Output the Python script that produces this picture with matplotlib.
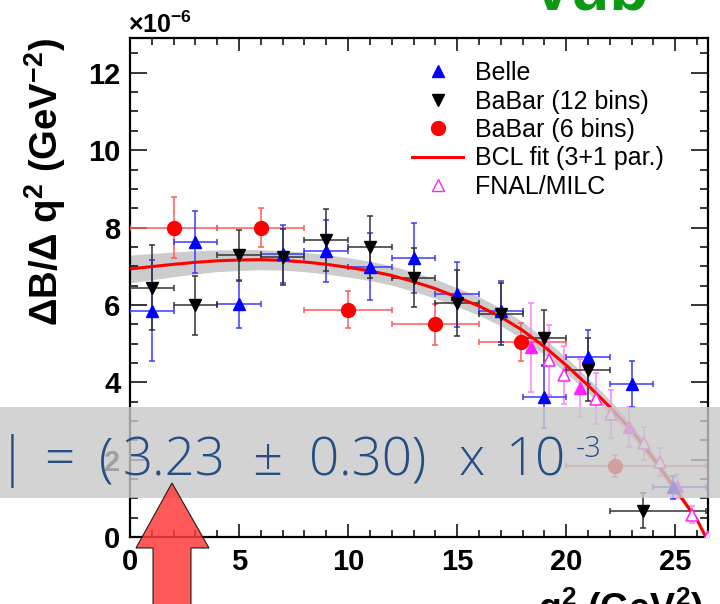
import numpy as np
import matplotlib
matplotlib.use("Agg")
from matplotlib import pyplot as plt
from matplotlib.patches import Polygon, Rectangle
from matplotlib.lines import Line2D

plt.rcParams['font.family'] = ['Liberation Sans', 'DejaVu Sans']
plt.rcParams['mathtext.fontset'] = 'custom'
plt.rcParams['mathtext.rm'] = 'Liberation Sans'
plt.rcParams['mathtext.bf'] = 'Liberation Sans:bold'

# Belle (13 bins)
belle_lo = [0, 2, 4, 6, 8, 10, 12, 14, 16, 18, 20, 22, 24]
belle_hi = [2, 4, 6, 8, 10, 12, 14, 16, 18, 20, 22, 24, 26.4]
belle_x = [1, 3, 5, 7, 9, 11, 13, 15, 17, 19, 21, 23, 24.9]
belle_y = [5.85, 7.62, 6.03, 7.32, 7.40, 6.99, 7.22, 6.27, 5.83, 3.62, 4.65, 3.95, 1.28]
belle_err = [1.3, 0.8, 0.62, 0.75, 0.8, 0.86, 0.9, 0.85, 0.78, 0.8, 0.7, 0.6, 0.3]

# BaBar (12 bins)
bb12_lo = [0, 2, 4, 6, 8, 10, 12, 14, 16, 18, 20, 22]
bb12_hi = [2, 4, 6, 8, 10, 12, 14, 16, 18, 20, 22, 26.4]
bb12_x = [1, 3, 5, 7, 9, 11, 13, 15, 17, 19, 21, 23.5]
bb12_y = [6.44, 5.99, 7.28, 7.23, 7.68, 7.49, 6.70, 6.05, 5.77, 5.15, 4.33, 0.68]
bb12_err = [1.1, 0.76, 0.65, 0.72, 0.8, 0.8, 0.76, 0.85, 0.8, 0.71, 0.82, 0.46]

# BaBar (6 bins)
bb6_lo = [0, 4, 8, 12, 16, 20]
bb6_hi = [4, 8, 12, 16, 20, 26.4]
bb6_x = [2, 6, 10, 14, 17.92, 22.25]
bb6_y = [8.0, 8.0, 5.88, 5.5, 5.04, 1.83]
bb6_err = [0.8, 0.5, 0.47, 0.53, 0.5, 0.28]

# FNAL/MILC lattice
fnal_fx = [18.38, 20.61, 22.86, 25.08]
fnal_fy = [4.91, 3.86, 2.85, 1.32]
fnal_ferr = [1.15, 0.75, 0.52, 0.32]
fnal_ox = [19.19, 19.88, 21.38, 22.06, 23.58, 24.31, 25.77, 26.5]
fnal_oy = [4.57, 4.18, 3.58, 3.19, 2.42, 1.94, 0.57, 0.0]
fnal_oerr = [0.9, 0.75, 0.66, 0.62, 0.42, 0.37, 0.22, 0.0]

# BCL fit
fit_q2 = [0, 1, 2, 3, 4, 5, 6, 7, 8, 9, 10, 11, 12, 13, 14, 15, 16, 17, 18,
          19, 20, 21, 22, 23, 24, 25, 26, 26.4]
fit_y = [6.93, 6.99, 7.05, 7.10, 7.14, 7.16, 7.17, 7.15, 7.11, 7.05, 6.97,
         6.88, 6.76, 6.60, 6.42, 6.20, 5.97, 5.69, 5.34, 4.92, 4.44, 3.92,
         3.36, 2.76, 2.03, 1.24, 0.44, 0.0]
fit_err = [0.36, 0.34, 0.32, 0.30, 0.28, 0.27, 0.26, 0.25, 0.25, 0.25, 0.25,
           0.25, 0.25, 0.25, 0.25, 0.24, 0.24, 0.23, 0.22, 0.21, 0.20, 0.19,
           0.18, 0.16, 0.14, 0.11, 0.06, 0.0]

x_ticks = [0, 5, 10, 15, 20, 25]
y_ticks = [0, 2, 4, 6, 8, 10, 12]

# |Vub| banner pieces and their left edges (px)
vub_parts = ['=', '(', '3.23', '±', '0.30)', 'x', '10']
vub_left = [44, 99, 123, 252, 309, 459, 506]


def xerrs(x, lo, hi):
    x = np.array(x)
    return [x - np.array(lo), np.array(hi) - x]


fig = plt.figure(figsize=(7.2, 6.04), dpi=100)
ax = fig.add_axes([130 / 720, 67 / 604, 578 / 720, 499 / 604])

fy = np.array(fit_y)
fe = np.array(fit_err)
ax.fill_between(fit_q2, fy - fe, fy + fe, color='#cccccc', lw=0, zorder=1)

ekw = dict(fmt='none', elinewidth=1.1, capsize=2.5, capthick=1.1, zorder=3)
ax.errorbar(bb6_x, bb6_y, xerr=xerrs(bb6_x, bb6_lo, bb6_hi), yerr=bb6_err,
            ecolor='#ff5a5a', **ekw)
ax.errorbar(fnal_fx, fnal_fy, yerr=fnal_ferr, ecolor='#ff80ff', **ekw)
ax.errorbar(fnal_ox, fnal_oy, yerr=fnal_oerr, ecolor='#ff80ff', **ekw)
ax.errorbar(belle_x, belle_y, xerr=xerrs(belle_x, belle_lo, belle_hi),
            yerr=belle_err, ecolor='#3a3aff', **ekw)
ax.errorbar(bb12_x, bb12_y, xerr=xerrs(bb12_x, bb12_lo, bb12_hi),
            yerr=bb12_err, ecolor='#333333', **ekw)

ax.plot(fit_q2, fit_y, color='red', lw=2.2, zorder=4)

ax.plot(bb6_x, bb6_y, 'o', color='red', ms=10, mec='red', zorder=5)
ax.plot(fnal_fx, fnal_fy, '^', color='#ff22ff', ms=9, mec='#ff22ff', zorder=5)
ax.plot(fnal_ox, fnal_oy, '^', mfc='white', mec='#ff22ff', ms=9, mew=1.1, zorder=5)
ax.plot(belle_x, belle_y, '^', color='#0000ff', ms=9, zorder=5)
ax.plot(bb12_x, bb12_y, 'v', color='black', ms=9, zorder=5)

ax.set_xlim(0, 26.5)
ax.set_ylim(0, 12.9)
ax.set_xticks(x_ticks)
ax.set_xticks(np.arange(0, 27, 1), minor=True)
ax.set_yticks(y_ticks)
ax.set_yticks(np.arange(0, 13, 0.5), minor=True)
ax.set_xticklabels([str(t) for t in x_ticks], fontsize=21, fontweight='bold')
ax.set_yticklabels([str(t) for t in y_ticks], fontsize=21, fontweight='bold')
ax.tick_params(which='both', direction='in', top=True, right=True, width=1.1)
ax.tick_params(axis='x', which='major', length=9.5, pad=8)
ax.tick_params(axis='x', which='minor', length=5)
ax.tick_params(axis='y', which='major', length=12, pad=7)
ax.tick_params(axis='y', which='minor', length=6)
for s in ax.spines.values():
    s.set_linewidth(1.6)

handles = [
    Line2D([], [], ls='none', marker='^', color='#0000ff', ms=9),
    Line2D([], [], ls='none', marker='v', color='black', ms=9),
    Line2D([], [], ls='none', marker='o', color='red', ms=10),
    Line2D([], [], color='red', lw=2.2),
    Line2D([], [], ls='none', marker='^', mfc='white', mec='#ff22ff', ms=9),
]
labels = ['Belle', 'BaBar (12 bins)', 'BaBar (6 bins)', 'BCL fit (3+1 par.)',
          'FNAL/MILC']
ax.legend(handles, labels, loc='upper left', frameon=False, fontsize=18,
          handlelength=2.05, handletextpad=0.48, labelspacing=0.18,
          bbox_to_anchor=(412 / 720, 1 - 61 / 604),
          bbox_transform=fig.transFigure, borderaxespad=0, borderpad=0)

fig.text(45 / 720, 1 - 38 / 604,
         r'ΔB/Δ q$^{\mathbf{2}}$ (GeV$^{\mathbf{-2}}$)',
         rotation=90, ha='center', va='top', fontsize=27.5, fontweight='bold')
fig.text(704 / 720, 1 - 585 / 604,
         r'q$^{\mathbf{2}}$ (GeV$^{\mathbf{2}}$)',
         ha='right', va='top', fontsize=27, fontweight='bold')
fig.text(128 / 720, 1 - 33 / 604, r'×10$^{\mathbf{-6}}$',
         ha='left', va='baseline', fontsize=18, fontweight='bold')

# slide decorations
fig.text(531 / 720, 1 - 10 / 604, 'Vub', color='#0b9a12', fontsize=46,
         fontweight='bold', ha='left', va='baseline')
fig.add_artist(Rectangle((0, 1 - 498 / 604), 1, 91 / 604,
                         transform=fig.transFigure, color='#c8c8c8',
                         alpha=0.8, lw=0, zorder=10))
band_font = ['Open Sans', 'DejaVu Sans']
tkw = dict(color='#244e84', family=band_font, fontweight='light',
           va='baseline', zorder=11)
fig.text(28 / 720, 1 - 475 / 604, '|Vub|', fontsize=38, ha='right', **tkw)
for part, left in zip(vub_parts, vub_left):
    fig.text(left / 720, 1 - 475 / 604, part, fontsize=38, ha='left', **tkw)
fig.text(576 / 720, 1 - 457 / 604, '-3', fontsize=21, ha='left', **tkw)

arrow = [(172, 483), (209, 548), (191, 548), (191, 610), (153, 610),
         (153, 548), (136, 548)]
fig.add_artist(Polygon([(px / 720, 1 - py / 604) for px, py in arrow],
                       closed=True, transform=fig.transFigure,
                       facecolor='#ff3d3d', edgecolor='black', lw=0.8,
                       alpha=0.85, zorder=12))

fig.savefig('out.png', dpi=100)
plt.close(fig)
